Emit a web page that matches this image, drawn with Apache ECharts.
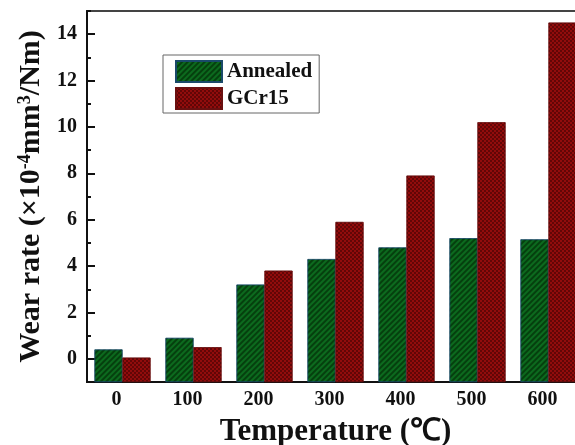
<!DOCTYPE html>
<html>
<head>
<meta charset="utf-8">
<script src="https://cdn.jsdelivr.net/npm/echarts@6/dist/echarts.min.js"></script>
<style>html,body{margin:0;padding:0;background:#fff}#c{width:575px;height:445px}</style>
</head>
<body>
<div id="c"></div>
<script>
const categories = ['0', '100', '200', '300', '400', '500', '600'];
const annealed = [0.4, 0.9, 3.2, 4.3, 4.8, 5.2, 5.15];
const gcr15 = [0.05, 0.5, 3.8, 5.9, 7.9, 10.2, 14.5];
const yMajorTicks = [0, 2, 4, 6, 8, 10, 12, 14];
const yMinorTicks = [-1, 1, 3, 5, 7, 9, 11, 13, 15];
const seriesNames = ['Annealed', 'GCr15'];

const FONT = '"Liberation Serif", "Times New Roman", serif';
const chart = echarts.init(document.getElementById('c'), null, {renderer: 'canvas'});
chart.setOption({
  backgroundColor: '#fff',
  animation: false,
  grid: {left: 87, top: 11, width: 497, height: 371, show: true, borderColor: '#444', borderWidth: 2, containLabel: false, outerBoundsMode: 'none'},
  legend: {
    data: seriesNames,
    orient: 'vertical',
    left: 163, top: 55,
    icon: 'rect',
    itemWidth: 46, itemHeight: 21, itemGap: 4,
    padding: [5, 7, 3, 12],
    borderColor: '#666', borderWidth: 1,
    backgroundColor: '#fff',
    textStyle: {fontFamily: FONT, fontWeight: 'bold', fontSize: 21, color: '#111'}
  },
  xAxis: {
    type: 'category',
    data: categories,
    boundaryGap: true,
    axisLine: {onZero: false, lineStyle: {color: '#111', width: 2}},
    axisTick: {inside: true, length: 6, lineStyle: {color: '#111', width: 2}},
    axisLabel: {fontFamily: FONT, fontWeight: 'bold', fontSize: 20, color: '#111', margin: 8, padding: [0, 12, 0, 0]},
    name: 'Temperature (℃)',
    nameLocation: 'middle',
    nameGap: 34,
    nameTextStyle: {fontFamily: FONT, fontWeight: 'bold', fontSize: 31, color: '#111'}
  },
  yAxis: [{
    type: 'value',
    min: -1, max: 15,
    startValue: -1,
    splitLine: {show: false},
    axisLine: {show: true, onZero: false, lineStyle: {color: '#111', width: 2}},
    axisTick: {show: true, inside: true, length: 8, customValues: yMajorTicks, lineStyle: {color: '#111', width: 2}},
    axisLabel: {customValues: yMajorTicks, fontFamily: FONT, fontWeight: 'bold', fontSize: 20, color: '#111', margin: 10},
    name: 'Wear rate (×10{sup|-4}mm{sup|3}/Nm)',
    nameLocation: 'middle',
    nameRotate: 90,
    nameGap: 40,
    nameTextStyle: {
      fontFamily: FONT, fontWeight: 'bold', fontSize: 30, color: '#111',
      rich: {sup: {fontFamily: FONT, fontWeight: 'bold', fontSize: 18, color: '#111', verticalAlign: 'top'}}
    }
  }, {
    type: 'value',
    min: -1, max: 15,
    position: 'left',
    splitLine: {show: false},
    axisLine: {show: false},
    axisLabel: {show: false},
    axisTick: {show: true, inside: true, length: 4, customValues: yMinorTicks, lineStyle: {color: '#111', width: 2}}
  }],
  series: [{
    name: seriesNames[0],
    type: 'bar',
    data: annealed,
    barWidth: 28,
    barGap: '0%',
    itemStyle: {
      color: '#0c6a1e',
      borderColor: '#1a4a6a', borderWidth: 0.6,
      decal: {symbol: 'rect', dashArrayX: [1, 0], dashArrayY: [2, 2], rotation: -Math.PI / 4, color: 'rgba(0,30,0,0.55)', symbolSize: 1}
    }
  }, {
    name: seriesNames[1],
    type: 'bar',
    data: gcr15,
    barWidth: 28,
    barGap: '0%',
    itemStyle: {
      color: '#920c0c',
      borderColor: '#6a1010', borderWidth: 0.6,
      decal: {symbol: 'rect', dashArrayX: [[2, 2], [0, 2, 2, 0]], dashArrayY: [2, 0], color: 'rgba(40,0,0,0.45)', symbolSize: 1}
    }
  }]
});
</script>
</body>
</html>
